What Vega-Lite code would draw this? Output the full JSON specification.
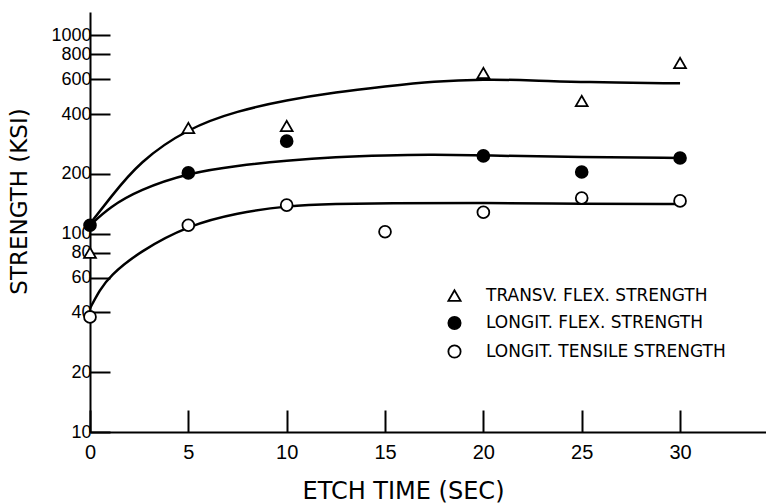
{
  "$schema": "https://vega.github.io/schema/vega-lite/v6.json",
  "width": 676,
  "height": 420,
  "autosize": {"type": "none"},
  "padding": {"left": 90, "top": 12, "right": 0, "bottom": 71},
  "background": "white",
  "config": {
    "view": {"stroke": null},
    "axis": {
      "grid": false,
      "domainColor": "black",
      "tickColor": "black",
      "labelColor": "black",
      "titleColor": "black",
      "domainWidth": 2,
      "tickWidth": 2,
      "labelFont": "Liberation Sans",
      "labelFontSize": 20,
      "titleFont": "DejaVu Sans",
      "titleFontWeight": "normal",
      "labelOverlap": false,
      "labelFlush": false
    },
    "legend": {
      "orient": "none", "legendX": 356, "legendY": 275, "title": null,
      "labelFont": "DejaVu Sans", "labelFontSize": 17, "labelColor": "black", "labelLimit": 0,
      "labelOffset": 23, "symbolSize": 150, "rowPadding": 7.5, "padding": 0,
      "symbolStrokeColor": "black", "symbolStrokeWidth": 1.8
    }
  },
  "datasets": {
    "points": [
      {"series": "TRANSV. FLEX. STRENGTH", "t": 0, "v": 80},
      {"series": "TRANSV. FLEX. STRENGTH", "t": 5, "v": 340},
      {"series": "TRANSV. FLEX. STRENGTH", "t": 10, "v": 348},
      {"series": "TRANSV. FLEX. STRENGTH", "t": 20, "v": 644},
      {"series": "TRANSV. FLEX. STRENGTH", "t": 25, "v": 465},
      {"series": "TRANSV. FLEX. STRENGTH", "t": 30, "v": 723},
      {"series": "LONGIT. FLEX. STRENGTH", "t": 0, "v": 110},
      {"series": "LONGIT. FLEX. STRENGTH", "t": 5, "v": 202},
      {"series": "LONGIT. FLEX. STRENGTH", "t": 10, "v": 292},
      {"series": "LONGIT. FLEX. STRENGTH", "t": 20, "v": 246},
      {"series": "LONGIT. FLEX. STRENGTH", "t": 25, "v": 204},
      {"series": "LONGIT. FLEX. STRENGTH", "t": 30, "v": 240},
      {"series": "LONGIT. TENSILE STRENGTH", "t": 0, "v": 38},
      {"series": "LONGIT. TENSILE STRENGTH", "t": 5, "v": 110},
      {"series": "LONGIT. TENSILE STRENGTH", "t": 10, "v": 139},
      {"series": "LONGIT. TENSILE STRENGTH", "t": 15, "v": 102},
      {"series": "LONGIT. TENSILE STRENGTH", "t": 20, "v": 128},
      {"series": "LONGIT. TENSILE STRENGTH", "t": 25, "v": 151},
      {"series": "LONGIT. TENSILE STRENGTH", "t": 30, "v": 146}
    ],
    "curves": [
      {"series": "T", "t": 0, "v": 112},
      {"series": "T", "t": 1, "v": 150},
      {"series": "T", "t": 2.5, "v": 230},
      {"series": "T", "t": 5, "v": 340},
      {"series": "T", "t": 7.5, "v": 415},
      {"series": "T", "t": 10, "v": 470},
      {"series": "T", "t": 12.5, "v": 515},
      {"series": "T", "t": 15, "v": 550},
      {"series": "T", "t": 17.5, "v": 585},
      {"series": "T", "t": 20, "v": 598},
      {"series": "T", "t": 22.5, "v": 592},
      {"series": "T", "t": 25, "v": 578},
      {"series": "T", "t": 30, "v": 571},
      {"series": "L", "t": 0, "v": 110},
      {"series": "L", "t": 1, "v": 136},
      {"series": "L", "t": 2.5, "v": 166},
      {"series": "L", "t": 5, "v": 202},
      {"series": "L", "t": 7.5, "v": 220},
      {"series": "L", "t": 10, "v": 233},
      {"series": "L", "t": 12.5, "v": 243},
      {"series": "L", "t": 15, "v": 248},
      {"series": "L", "t": 17.5, "v": 250},
      {"series": "L", "t": 20, "v": 247},
      {"series": "L", "t": 25, "v": 243},
      {"series": "L", "t": 30, "v": 240},
      {"series": "LT", "t": 0, "v": 42},
      {"series": "LT", "t": 0.5, "v": 52},
      {"series": "LT", "t": 1, "v": 61},
      {"series": "LT", "t": 2.5, "v": 81},
      {"series": "LT", "t": 5, "v": 110},
      {"series": "LT", "t": 7.5, "v": 127},
      {"series": "LT", "t": 10, "v": 138},
      {"series": "LT", "t": 12.5, "v": 141},
      {"series": "LT", "t": 15, "v": 142},
      {"series": "LT", "t": 20, "v": 143},
      {"series": "LT", "t": 25, "v": 141},
      {"series": "LT", "t": 30, "v": 141}
    ]
  },
  "layer": [
    {
      "data": {"name": "curves"},
      "mark": {"type": "line", "interpolate": "basis", "stroke": "black", "strokeWidth": 2.5},
      "encoding": {
        "x": {
          "field": "t", "type": "quantitative",
          "scale": {"domain": [0, 34.37], "nice": false, "zero": false},
          "axis": {
            "values": [0, 5, 10, 15, 20, 25, 30],
            "tickSize": -22,
            "labelPadding": 32,
            "title": "ETCH TIME (SEC)",
            "titleFontSize": 24,
            "titleX": 313,
            "titleY": 66,
            "titleBaseline": "alphabetic",
            "titleAlign": "center",
            "titleAnchor": null
          }
        },
        "y": {
          "field": "v", "type": "quantitative",
          "scale": {"type": "log", "domain": [10, 1306], "nice": false},
          "axis": {
            "values": [10, 20, 40, 60, 80, 100, 200, 400, 600, 800, 1000],
            "format": "d",
            "tickSize": -20,
            "labelPadding": 19,
            "labelFontSize": 18,
            "title": "STRENGTH (KSI)",
            "titleFontSize": 23,
            "titleX": -64,
            "titleY": 189,
            "titleAngle": -90,
            "titleBaseline": "alphabetic",
            "titleAlign": "center",
            "titleAnchor": null
          }
        },
        "detail": {"field": "series"}
      }
    },
    {
      "data": {"name": "points"},
      "mark": {"type": "point", "filled": false, "strokeWidth": 1.8, "size": 140, "opacity": 1},
      "encoding": {
        "x": {"field": "t", "type": "quantitative"},
        "y": {"field": "v", "type": "quantitative"},
        "shape": {
          "field": "series", "type": "nominal",
          "scale": {
            "domain": ["TRANSV. FLEX. STRENGTH", "LONGIT. FLEX. STRENGTH", "LONGIT. TENSILE STRENGTH"],
            "range": ["triangle-up", "circle", "circle"]
          }
        },
        "fill": {
          "field": "series", "type": "nominal",
          "scale": {
            "domain": ["TRANSV. FLEX. STRENGTH", "LONGIT. FLEX. STRENGTH", "LONGIT. TENSILE STRENGTH"],
            "range": ["white", "black", "white"]
          }
        },
        "stroke": {
          "field": "series", "type": "nominal",
          "scale": {
            "domain": ["TRANSV. FLEX. STRENGTH", "LONGIT. FLEX. STRENGTH", "LONGIT. TENSILE STRENGTH"],
            "range": ["black", "black", "black"]
          }
        }
      }
    }
  ]
}
